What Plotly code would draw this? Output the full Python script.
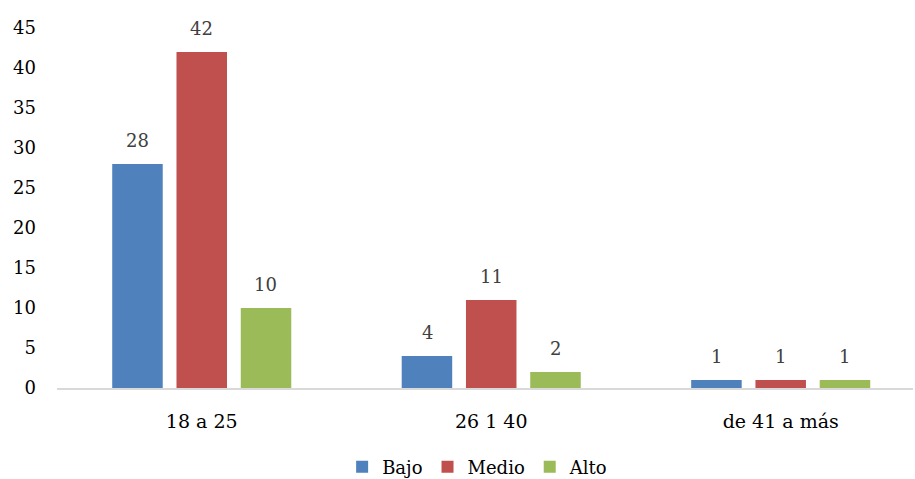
import plotly.graph_objects as go

categories = ["18 a 25", "26 1 40", "de 41 a más"]
series_names = ["Bajo", "Medio", "Alto"]
bajo = [28, 4, 1]
medio = [42, 11, 1]
alto = [10, 2, 1]
colors = ["#4F81BD", "#C0504D", "#9BBB59"]
y_ticks = [0, 5, 10, 15, 20, 25, 30, 35, 40, 45]

SERIF = "DejaVu Serif"

values = [bajo, medio, alto]
fig = go.Figure()
for name, vals, col in zip(series_names, values, colors):
    fig.add_trace(go.Bar(name=name, x=categories, y=vals, marker_color=col,
                         marker_line_width=0))

shifts = [-64, 0, 64]
for vals, sh in zip(values, shifts):
    for c, v in zip(categories, vals):
        fig.add_annotation(x=c, y=v, text=str(v), showarrow=False, xshift=sh,
                           yshift=24, font=dict(family=SERIF, size=18, color="#404040"))

fig.update_layout(
    width=915, height=479,
    margin=dict(l=57, r=2, t=28, b=91, autoexpand=False),
    paper_bgcolor="white", plot_bgcolor="white",
    barmode="group", bargap=0.334, bargroupgap=0.214,
    font=dict(family=SERIF, size=18, color="black"),
    showlegend=True,
    legend=dict(orientation="h", x=0.522, xanchor="center", xref="container",
                y=0.025, yanchor="middle", yref="container",
                font=dict(family=SERIF, size=18, color="black"),
                itemwidth=30, tracegroupgap=0),
    xaxis=dict(range=[-0.5, 2.457], showline=True, linecolor="#D9D9D9", linewidth=1.5,
               ticks="", showgrid=False, ticklabelstandoff=15,
               tickfont=dict(family=SERIF, size=19, color="black")),
    yaxis=dict(range=[0, 45], tickvals=y_ticks, showgrid=False, zeroline=False,
               showline=False, ticks="", ticklabelstandoff=20,
               tickfont=dict(family=SERIF, size=18, color="black")),
)

fig.write_html("out.html")
